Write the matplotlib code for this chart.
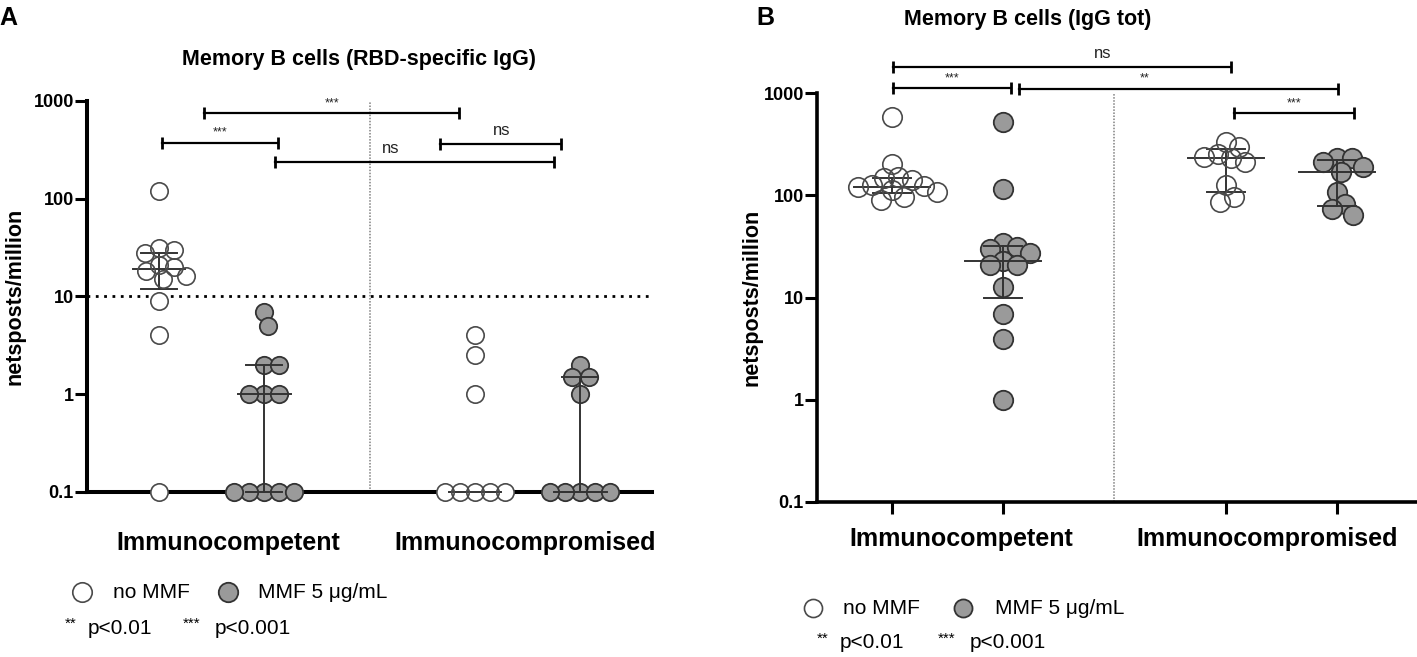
import numpy as np
import matplotlib
matplotlib.use("Agg")
import matplotlib.pyplot as plt
from matplotlib.lines import Line2D
import matplotlib.transforms as mtransforms

plt.rcParams['font.family'] = ['Liberation Sans', 'DejaVu Sans']

# ---------------- data ----------------
group_labels = ["Immunocompetent", "Immunocompromised"]
treatments = ["no MMF", "MMF 5 μg/mL"]
x_positions = [1, 2, 4, 5]          # IC noMMF, IC MMF, ICp noMMF, ICp MMF

# Panel A: Memory B cells (RBD-specific IgG)
a_ic_nommf = [119, 31, 30, 28, 21, 20, 18, 16, 15, 9, 4, 0.1]
a_ic_mmf = [7, 5, 2, 2, 1, 1, 1, 0.1, 0.1, 0.1, 0.1, 0.1]
a_icp_nommf = [4, 2.5, 1, 0.1, 0.1, 0.1, 0.1, 0.1]
a_icp_mmf = [2, 1.5, 1.5, 1, 0.1, 0.1, 0.1, 0.1, 0.1]
a_median = [19, 1, 0.1, 0.1]
a_q1 = [12, 0.1, 0.1, 0.1]
a_q3 = [28, 2, 0.1, 1.5]
a_threshold = 10
# (x1, x2, y, label, text_x)
a_brackets = [(1.43, 3.85, 740, "***", 2.64),
              (1.03, 2.13, 372, "***", 1.58),
              (2.10, 4.75, 239, "ns", 3.20),
              (3.67, 4.82, 363, "ns", 4.25)]

# Panel B: Memory B cells (IgG tot)
b_ic_nommf = [585, 200, 150, 148, 142, 125, 122, 120, 112, 108, 96, 90]
b_ic_mmf = [520, 116, 34, 31, 30, 27, 23, 21, 21, 12.6, 6.9, 3.9, 1]
b_icp_nommf = [333, 298, 256, 237, 229, 212, 125, 96, 86]
b_icp_mmf = [229, 229, 212, 190, 169, 108, 83, 74, 63.5]
b_median = [121, 23, 229, 167]
b_q1 = [106, 9.8, 108, 78]
b_q3 = [149, 32, 286, 221]
b_brackets = [(1.01, 4.05, 1800, "ns", 2.89),
              (1.01, 2.07, 1115, "***", 1.54),
              (2.14, 5.01, 1100, "**", 3.27),
              (4.07, 5.15, 635, "***", 4.61)]

yticks = [0.1, 1, 10, 100, 1000]
ytick_labels = ["0.1", "1", "10", "100", "1000"]

OPEN_EDGE = "#4a4a4a"
FILL = "#9a9a9a"
FILL_EDGE = "#333333"
LINE_C = "#333333"

W, H = 1417, 657
fig = plt.figure(figsize=(W / 100, H / 100), dpi=100)
X = lambda px: px / W
Y = lambda py: 1 - py / H


def swarm_x(ax, xc, vals, min_dist_px):
    vals = np.asarray(vals, float)
    pts = ax.transData.transform(np.column_stack([np.full(len(vals), xc), vals]))
    x0 = pts[0, 0]
    ypx = pts[:, 1]
    order = np.argsort(-vals, kind="stable")
    placed = []
    xs = np.zeros(len(vals))
    for i in order:
        best = None
        k = 0
        while best is None:
            for sgn in ((1, -1) if k else (1,)):
                off = sgn * k * 0.5
                if all((off - px) ** 2 + (ypx[i] - py) ** 2 >= min_dist_px ** 2
                       for px, py in placed):
                    best = off
                    break
            k += 1
        placed.append((best, ypx[i]))
        xs[i] = x0 + best
    return ax.transData.inverted().transform(np.column_stack([xs, ypx]))[:, 0]


def setup_axes(rect, xlim, spine_lw, xtick_len):
    ax = fig.add_axes(rect)
    ax.set_yscale("log")
    ax.set_ylim(0.1, 1000)
    ax.set_xlim(*xlim)
    for s in ("top", "right"):
        ax.spines[s].set_visible(False)
    for s in ("left", "bottom"):
        ax.spines[s].set_linewidth(spine_lw)
        ax.spines[s].set_color("black")
    ax.set_yticks(yticks)
    ax.set_yticklabels(ytick_labels, fontsize=13, fontweight="bold")
    ax.yaxis.set_minor_locator(matplotlib.ticker.NullLocator())
    ax.tick_params(axis="y", length=8.5, width=2.2, pad=1)
    ax.set_xticks(x_positions)
    ax.set_xticklabels([])
    ax.tick_params(axis="x", length=xtick_len, width=2.2)
    ax.patch.set_visible(False)
    return ax


def draw_panel(ax, series, medians, q1s, q3s, ms, min_frac, med_hw, q_hw):
    diam_px = ms / 72 * 100
    for k, (xc, vals) in enumerate(zip(x_positions, series)):
        xs = swarm_x(ax, xc, vals, diam_px * min_frac)
        if k % 2 == 0:
            ax.plot(xs, vals, "o", ms=ms, mfc="white", mec="none", ls="none",
                    zorder=2.6, clip_on=False)
            ax.plot(xs, vals, "o", ms=ms, mfc="none", mec=OPEN_EDGE, mew=1.2,
                    ls="none", zorder=4.5, clip_on=False,
                    label=treatments[0] if k == 0 else None)
        else:
            ax.plot(xs, vals, "o", ms=ms, mfc=FILL, mec=FILL_EDGE, mew=1.3,
                    ls="none", zorder=3, clip_on=False,
                    label=treatments[1] if k == 1 else None)
        ax.plot([xc - med_hw, xc + med_hw], [medians[k]] * 2, color=LINE_C,
                lw=1.4, zorder=4, clip_on=False)
        if q3s[k] > q1s[k]:
            ax.plot([xc, xc], [q1s[k], q3s[k]], color=LINE_C, lw=1.4, zorder=4,
                    clip_on=False)
            for q in (q1s[k], q3s[k]):
                ax.plot([xc - q_hw, xc + q_hw], [q, q], color=LINE_C, lw=1.4,
                        zorder=4, clip_on=False)


def draw_brackets(ax, brackets, text_off):
    for x1, x2, y, lab, tx in brackets:
        ax.plot([x1, x2], [y, y], color="black", lw=1.6, clip_on=False, zorder=5)
        ax.plot([x1, x2], [y, y], ls="none", marker="|", ms=9, mew=2,
                color="black", clip_on=False, zorder=5)
        fs = 9 if "*" in lab else 12
        ax.annotate(lab, xy=(tx, y), xytext=(0, text_off if "*" in lab else text_off + 1),
                    textcoords="offset points", ha="center", va="bottom",
                    fontsize=fs, color="#222222", annotation_clip=False)


def category_labels(ax, xs, ypix_offset):
    trans = mtransforms.blended_transform_factory(ax.transData, ax.transAxes)
    trans = trans + mtransforms.ScaledTranslation(0, -ypix_offset / 100, fig.dpi_scale_trans)
    for x, lab in zip(xs, group_labels):
        ax.text(x, 0, lab, transform=trans, ha="center", va="center",
                fontsize=18, fontweight="bold")


def legend_block(x_circ1, x_txt1, x_circ2, x_txt2, y_leg, x_s1, x_p1, x_s2, x_p2, y_p, ms):
    fig.add_artist(Line2D([X(x_circ1)], [Y(y_leg)], transform=fig.transFigure,
                          marker="o", ms=ms, mfc="white", mec=OPEN_EDGE, mew=1.2, ls="none"))
    fig.text(X(x_txt1), Y(y_leg), treatments[0], fontsize=15, va="center", ha="left")
    fig.add_artist(Line2D([X(x_circ2)], [Y(y_leg)], transform=fig.transFigure,
                          marker="o", ms=ms, mfc=FILL, mec=FILL_EDGE, mew=1.3, ls="none"))
    fig.text(X(x_txt2), Y(y_leg), treatments[1], fontsize=15, va="center", ha="left")
    fig.text(X(x_s1), Y(y_p - 4), "**", fontsize=11, va="center", ha="left")
    fig.text(X(x_p1), Y(y_p), "p<0.01", fontsize=15, va="center", ha="left")
    fig.text(X(x_s2), Y(y_p - 4), "***", fontsize=11, va="center", ha="left")
    fig.text(X(x_p2), Y(y_p), "p<0.001", fontsize=15, va="center", ha="left")


# ---------------- Panel A ----------------
axA = setup_axes([X(87), 1 - 492 / H, 565 / W, 391.3 / H], (0.316, 5.682), 2.9, 3)
axA.axhline(a_threshold, color="black", lw=2, ls=(0, (1, 2)), zorder=1)
axA.axvline(3, color="#808080", lw=1.1, ls=(0, (1, 1)), zorder=1)
draw_panel(axA, [a_ic_nommf, a_ic_mmf, a_icp_nommf, a_icp_mmf],
           a_median, a_q1, a_q3, ms=12.5, min_frac=0.85, med_hw=0.25, q_hw=0.17)
draw_brackets(axA, a_brackets, 3)
fig.text(X(15), Y(296), "netsposts/million", rotation=90, fontsize=15.5,
         fontweight="bold", ha="center", va="center")
category_labels(axA, [1.66, 4.48], 51)
fig.text(X(359), Y(60), "Memory B cells (RBD-specific IgG)", fontsize=15.5,
         fontweight="bold", ha="center", va="center")
fig.text(X(8), Y(18), "A", fontsize=18, fontweight="bold", ha="center", va="center")
legend_block(82, 113, 228, 258, 592, 65, 88, 183, 215, 628, 14)

# ---------------- Panel B ----------------
axB = setup_axes([X(817), 1 - 502 / H, 600 / W, 409 / H], (0.326, 5.719), 2.6, 8.5)
axB.plot([3, 3], [0.1, 1000], color="#808080", lw=1.1, ls=(0, (1, 1)), zorder=1)
draw_panel(axB, [b_ic_nommf, b_ic_mmf, b_icp_nommf, b_icp_mmf],
           b_median, b_q1, b_q3, ms=14, min_frac=0.72, med_hw=0.34, q_hw=0.17)
draw_brackets(axB, b_brackets, 3)
fig.text(X(752), Y(297), "netsposts/million", rotation=90, fontsize=15.5,
         fontweight="bold", ha="center", va="center")
category_labels(axB, [1.62, 4.37], 37)
fig.text(X(1028), Y(20), "Memory B cells (IgG tot)", fontsize=15.5,
         fontweight="bold", ha="center", va="center")
fig.text(X(765), Y(18), "B", fontsize=18, fontweight="bold", ha="center", va="center")
legend_block(813, 843, 963, 995, 608, 817, 840, 938, 970, 643, 13)

fig.savefig("out.png", dpi=100)
